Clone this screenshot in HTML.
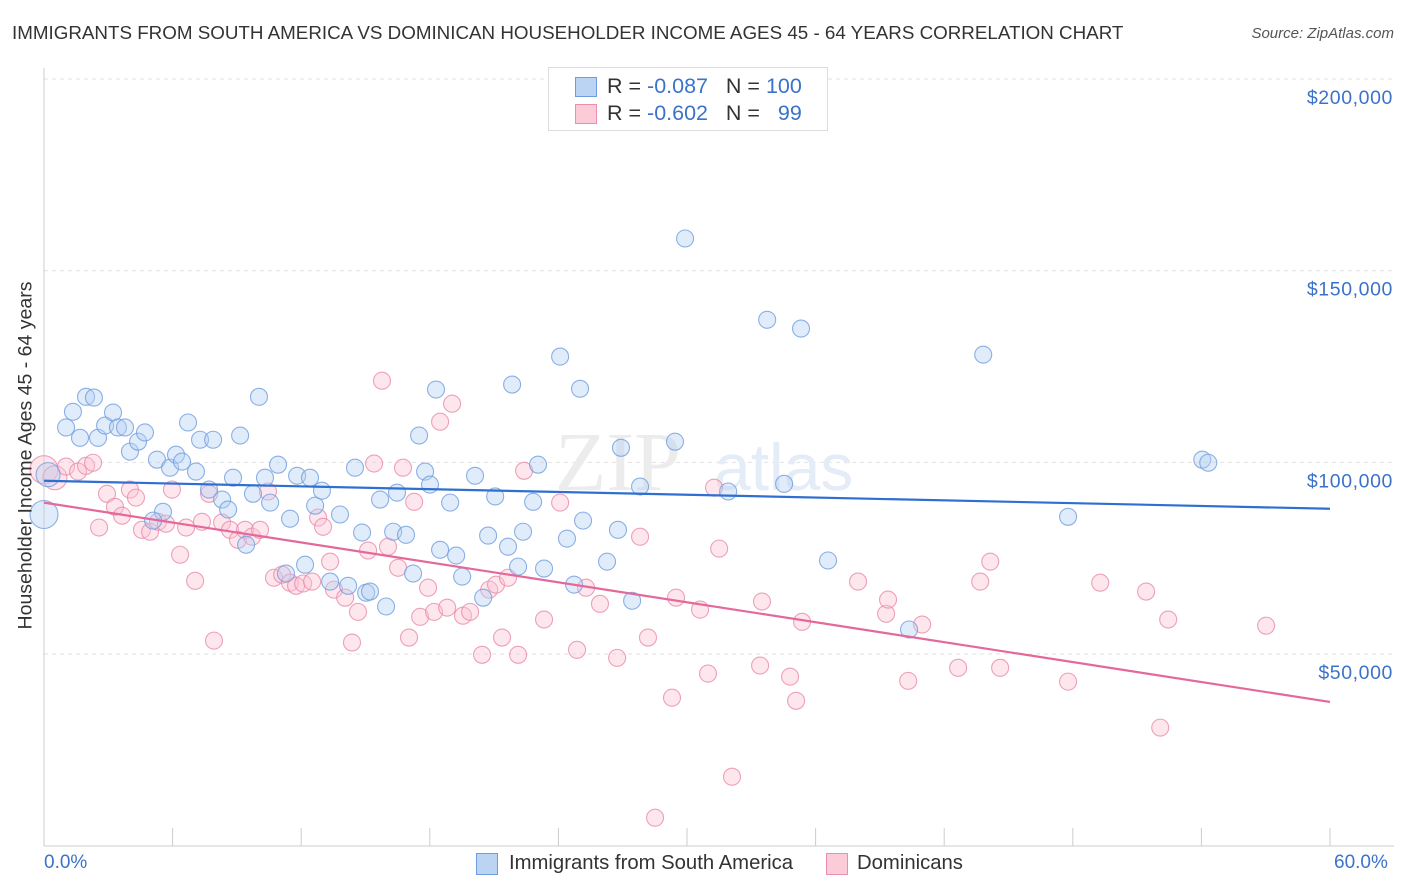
<!DOCTYPE html>
<html><head><meta charset="utf-8"><style>
body{margin:0;background:#fff;font-family:"Liberation Sans",sans-serif}
#wrap{position:relative;width:1406px;height:892px;overflow:hidden}
.t{position:absolute;white-space:nowrap}
</style></head><body>
<div id="wrap">
<div class="t" style="left:12px;top:22px;font-size:18.8px;color:#333">IMMIGRANTS FROM SOUTH AMERICA VS DOMINICAN HOUSEHOLDER INCOME AGES 45 - 64 YEARS CORRELATION CHART</div>
<div class="t" style="right:12px;top:25px;font-size:15px;color:#555;font-style:italic">Source: ZipAtlas.com</div>
<svg id="svg" width="1406" height="892" style="position:absolute;left:0;top:0"></svg>
</div>
<script>
const blueX=[0.0,0.19,1.03,1.35,1.96,2.33,1.68,2.52,2.85,3.22,3.45,3.78,4.01,4.39,4.71,5.27,5.55,5.09,5.88,6.16,6.44,6.72,7.09,7.28,7.89,7.70,8.31,8.59,8.82,9.15,9.43,9.75,10.03,10.31,10.55,10.92,11.29,11.48,11.81,12.18,12.41,12.65,12.97,13.35,13.81,14.19,14.51,14.84,15.03,15.21,15.96,15.68,16.29,16.47,16.89,17.22,17.50,17.78,18.01,18.29,18.48,18.95,19.23,19.51,20.11,20.49,20.72,21.05,21.65,21.84,22.12,22.35,22.82,23.05,23.33,24.08,24.40,24.73,25.01,25.15,26.27,26.78,26.92,27.44,27.81,29.44,29.91,31.92,33.74,34.53,35.32,36.58,40.36,43.82,47.78,54.04,54.32];
const blueY=[86.4,96.8,109.1,113.2,117.1,116.9,106.4,106.4,109.6,113.0,109.1,109.1,102.8,105.4,107.8,100.7,87.1,84.8,98.6,102.0,100.2,110.4,97.6,105.9,105.9,92.9,90.3,87.7,96.0,107.0,78.5,91.8,117.1,96.0,89.5,99.4,71.0,85.3,96.5,73.3,96.0,88.7,92.6,68.9,86.4,67.8,98.6,81.7,66.0,66.3,62.4,90.3,81.9,92.1,81.1,71.0,107.0,97.6,94.2,119.0,77.2,89.5,75.7,70.2,96.5,64.7,80.9,91.1,78.0,120.3,72.8,81.9,89.7,99.4,72.3,127.6,80.1,68.1,119.2,84.8,74.1,82.4,103.8,63.9,93.7,105.4,158.4,92.4,137.2,94.4,134.9,74.4,56.4,128.1,85.8,100.7,99.9];
const pinkX=[0.0,0.51,1.03,1.59,1.96,2.29,2.57,2.94,3.31,3.64,4.01,4.29,4.57,4.95,5.32,5.69,5.97,6.35,6.63,7.05,7.37,7.70,7.93,8.31,8.68,9.05,9.38,9.71,10.08,10.45,10.73,11.11,11.48,11.76,12.09,12.51,12.79,13.02,13.35,13.53,14.05,14.37,14.65,15.12,15.40,15.77,16.05,16.52,16.75,17.03,17.27,17.55,17.92,18.20,18.48,18.81,19.04,19.55,19.88,20.44,20.77,21.09,21.37,21.65,22.12,22.40,23.33,24.08,24.87,25.29,25.94,26.74,27.81,28.18,29.30,29.49,30.61,30.98,31.26,31.50,32.10,33.41,33.50,34.81,35.09,35.37,37.98,39.29,39.38,40.32,40.97,42.65,43.68,44.15,44.61,47.78,49.28,51.42,52.08,52.45,57.02,28.51];
const pinkY=[98.1,96.0,98.9,97.6,99.1,99.9,83.0,91.8,88.4,86.1,92.9,90.8,82.4,81.9,84.5,84.0,92.9,75.9,83.0,69.1,84.5,91.8,53.5,84.3,82.4,79.8,82.4,80.6,82.4,92.4,69.9,70.7,68.6,67.8,68.4,68.9,85.6,83.2,74.1,66.8,64.7,53.0,61.0,77.0,99.7,121.3,78.0,72.5,98.6,54.3,89.7,59.7,67.3,61.0,110.6,62.1,115.3,60.0,61.0,49.8,66.8,68.1,54.3,69.9,49.8,97.8,59.0,89.5,51.1,67.3,63.1,49.0,80.6,54.3,38.6,64.7,61.6,44.9,93.4,77.5,18.0,47.0,63.7,44.1,37.8,58.4,68.9,60.5,64.2,43.0,57.7,46.4,68.9,74.1,46.4,42.8,68.6,66.3,30.8,59.0,57.4,7.3];
const blueTrend=[95.2,87.9];
const pinkTrend=[89.5,37.5];
const yTicks=[50,100,150,200];
const yTickLabels=["$50,000","$100,000","$150,000","$200,000"];
const xTicks=[0,6,12,18,24,30,36,42,48,54,60];

const NS="http://www.w3.org/2000/svg";
const svg=document.getElementById('svg');
const X=p=>44+p*(1330-44)/60;
const Y=v=>845.7-v*575/150;
function mk(t,a,parent){const e=document.createElementNS(NS,t);for(const k in a)e.setAttribute(k,a[k]);(parent||svg).appendChild(e);return e;}
yTicks.forEach((v,i)=>{
  const g=mk('line',{x1:44,x2:1394,y1:Y(v),y2:Y(v),stroke:'#e2e2e2','stroke-dasharray':'4,4'});
  
  
  const t=mk('text',{x:1393,y:Y(v)+25,'text-anchor':'end','font-size':19.5,fill:'#3a73c9','font-family':'Liberation Sans, sans-serif','letter-spacing':'0.6'});
  t.textContent=yTickLabels[i];
  
  
});
const ya=mk('line',{x1:44,x2:44,y1:68,y2:846,stroke:'#ccc'});


const xa=mk('line',{x1:44,x2:1394,y1:846,y2:846,stroke:'#ccc'});


xTicks.forEach(p=>{const l=mk('line',{x1:X(p),x2:X(p),y1:828,y2:846,stroke:'#ccc'});
  
  });
const wm=mk('text',{x:555,y:490,'font-size':84,fill:'#ececec','font-family':'Liberation Serif, serif'});wm.textContent='ZIP';


const wm2=mk('text',{x:714,y:490,'font-size':66,fill:'#e4ecf7','font-family':'Liberation Sans, sans-serif'});wm2.textContent='atlas';


function dots(xs,ys,fill,stroke,name){
  xs.forEach((p,i)=>{const r=(i<2)?(i==0?14:12):8.5;
    const c=mk('circle',{cx:X(p),cy:Y(ys[i]),r:r,fill:fill,stroke:stroke,'stroke-width':1.1,'fill-opacity':0.4,'stroke-opacity':0.8});
    
    });
}
dots(pinkX,pinkY,'#f9c3d2','#ea8aab','dominican-point');
dots(blueX,blueY,'#b5d0f3','#6f9edf','south-america-point');
const bt=mk('line',{x1:X(0),y1:Y(blueTrend[0]),x2:X(60),y2:Y(blueTrend[1]),stroke:'#2f6fd1','stroke-width':2.2});


const pt=mk('line',{x1:X(0),y1:Y(pinkTrend[0]),x2:X(60),y2:Y(pinkTrend[1]),stroke:'#e4689a','stroke-width':2.2});


</script>
<div class="t" style="left:-154px;top:444px;width:360px;text-align:center;transform:rotate(-90deg);font-size:19.5px;color:#333">Householder Income Ages 45 - 64 years</div>
<div class="t" style="left:44px;top:852px;font-size:19px;color:#3a73c9">0.0%</div>
<div class="t" style="left:1334px;top:852px;font-size:19px;color:#3a73c9">60.0%</div>
<div style="position:absolute;left:548px;top:67px;width:278px;height:62px;border:1px solid #ddd;background:#fff;font-size:21.5px;color:#333">
 <div style="position:absolute;left:26px;top:9px;width:20px;height:18px;background:#bcd4f4;border:1px solid #6d9de0"></div>
 <div class="t" style="left:58px;top:6px">R = <span style="color:#3a73c9">-0.087</span>&nbsp;&nbsp;&nbsp;N = <span style="color:#3a73c9">100</span></div>
 <div style="position:absolute;left:26px;top:36px;width:20px;height:18px;background:#fbcbd8;border:1px solid #ea8fae"></div>
 <div class="t" style="left:58px;top:33px">R = <span style="color:#3a73c9">-0.602</span>&nbsp;&nbsp;&nbsp;N = &nbsp;&nbsp;<span style="color:#3a73c9">99</span></div>
</div>
<div style="position:absolute;left:476px;top:851px;font-size:20.3px;color:#333">
 <div style="position:absolute;left:0;top:2px;width:20px;height:20px;background:#bcd4f4;border:1px solid #6d9de0"></div>
 <div class="t" style="left:33px;top:1px">Immigrants from South America</div>
 <div style="position:absolute;left:350px;top:2px;width:20px;height:20px;background:#fbcbd8;border:1px solid #ea8fae"></div>
 <div class="t" style="left:381px;top:1px">Dominicans</div>
</div>
</body></html>
